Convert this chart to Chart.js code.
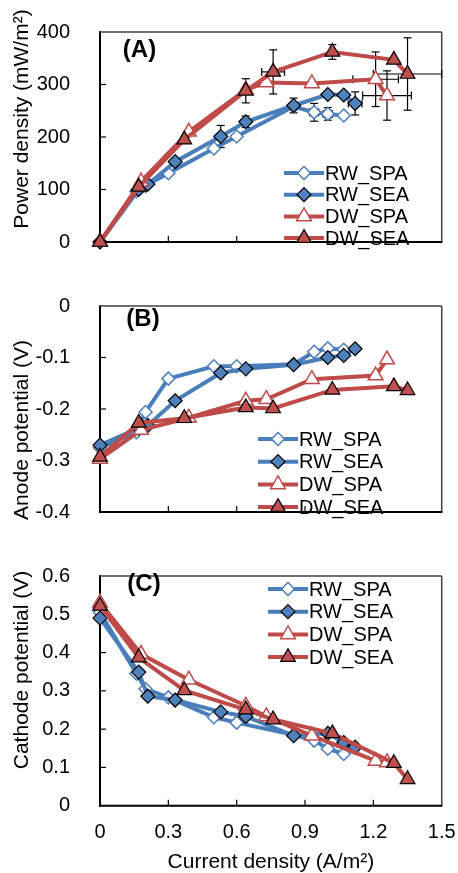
<!DOCTYPE html>
<html>
<head>
<meta charset="utf-8">
<script src="https://cdn.jsdelivr.net/npm/chart.js@4.4.1/dist/chart.umd.min.js"></script>
<style>
  html, body { margin: 0; padding: 0; background: #fff; }
  body { width: 458px; height: 873px; position: relative; overflow: hidden; }
  .panel { position: absolute; left: 0; width: 458px; }
</style>
</head>
<body>
<div class="panel" style="top:0;height:274px"><canvas id="chartA"></canvas></div>
<div class="panel" style="top:274px;height:270px"><canvas id="chartB"></canvas></div>
<div class="panel" style="top:544px;height:329px"><canvas id="chartC"></canvas></div>
<script>
// series names (legend order)
var seriesNames = ['RW_SPA', 'RW_SEA', 'DW_SPA', 'DW_SEA'];

// current density (A/m2) for each series
var xRwSpa = [0, 0.16, 0.2, 0.3, 0.5, 0.6, 0.85, 0.94, 1.0, 1.07];
var xRwSea = [0, 0.17, 0.21, 0.33, 0.53, 0.64, 0.85, 1.0, 1.07, 1.12];
var xDwSpa = [0, 0.18, 0.39, 0.64, 0.73, 0.93, 1.21, 1.26];
var xDwSea = [0, 0.17, 0.37, 0.64, 0.76, 1.02, 1.29, 1.35];

// (A) power density (mW/m2)
var powRwSpa = [0, 97, 107, 131, 178, 201, 258, 247, 244, 241];
var powRwSea = [0, 100, 110, 153, 201, 229, 260, 281, 280, 264];
var powDwSpa = [0, 115, 210, 290, 304, 302, 310, 279];
var powDwSea = [0, 105, 195, 288, 324, 362, 347, 320];

// error bars for (A): +/- y and +/- x
var errYRwSpa = [0, 0, 0, 0, 0, 0, 0, 17, 12, 0];
var errXRwSpa = [0, 0, 0, 0, 0, 0, 0, 0.02, 0.02, 0];
var errYRwSea = [0, 0, 0, 0, 21, 11, 14, 0, 0, 22];
var errXRwSea = [0, 0, 0, 0, 0, 0, 0, 0, 0, 0.03];
var errYDwSpa = [0, 0, 0, 0, 0, 0, 52, 47];
var errXDwSpa = [0, 0, 0, 0, 0, 0, 0.1, 0.107];
var errYDwSea = [0, 0, 0, 23, 42, 14, 0, 69];
var errXDwSea = [0, 0, 0, 0, 0.05, 0, 0, 0.15];

// (B) anode potential (V)
var anRwSpa = [-0.275, -0.245, -0.206, -0.141, -0.117, -0.117, -0.113, -0.089, -0.082, -0.085];
var anRwSea = [-0.270, -0.237, -0.232, -0.184, -0.130, -0.122, -0.114, -0.100, -0.096, -0.083];
var anDwSpa = [-0.297, -0.241, -0.217, -0.184, -0.181, -0.142, -0.135, -0.104];
var anDwSea = [-0.293, -0.227, -0.218, -0.197, -0.199, -0.163, -0.156, -0.164];

// (C) cathode potential (V)
var caRwSpa = [0.505, 0.345, 0.305, 0.283, 0.231, 0.217, 0.185, 0.170, 0.149, 0.135];
var caRwSea = [0.490, 0.349, 0.286, 0.276, 0.245, 0.233, 0.183, 0.189, 0.165, 0.153];
var caDwSpa = [0.530, 0.396, 0.329, 0.261, 0.233, 0.183, 0.117, 0.113];
var caDwSea = [0.522, 0.387, 0.301, 0.251, 0.225, 0.189, 0.111, 0.069];

var xs = [xRwSpa, xRwSea, xDwSpa, xDwSea];

var FONT = '"Liberation Sans", Arial, sans-serif';
Chart.defaults.font.family = FONT;
Chart.defaults.color = '#000';

var BLUE = '#4A7EBB', RED = '#BE4B48';
var styles = [
    {color: BLUE, fill: '#fff', edge: BLUE, shape: 'rectRot', r: 6.5, bw: 1.5},
    {color: BLUE, fill: '#4F81BD', edge: '#000', shape: 'rectRot', r: 7, bw: 1.2},
    {color: RED, fill: '#fff', edge: RED, shape: 'triangle', r: 8.5, bw: 1.5},
    {color: RED, fill: '#C0504D', edge: '#000', shape: 'triangle', r: 8.5, bw: 1.2}
];

function makeSets(ys) {
    return seriesNames.map(function(name, i) {
        var st = styles[i];
        return {
            label: name,
            data: xs[i].map(function(x, j) { return {x: x, y: ys[i][j]}; }),
            borderColor: st.color,
            borderWidth: 4,
            pointStyle: st.shape,
            pointRadius: st.r,
            pointBackgroundColor: st.fill,
            pointBorderColor: st.edge,
            pointBorderWidth: st.bw,
            order: 3 - i, // DW_SEA on top
            clip: false
        };
    });
}

function line(ctx, x1, y1, x2, y2) {
    ctx.beginPath();
    ctx.moveTo(x1, y1);
    ctx.lineTo(x2, y2);
    ctx.stroke();
}

// frame, inward ticks, error bars, panel label, legend, y title
var deco = {
    id: 'deco',
    beforeDatasetsDraw: function(chart, args, opts) {
        var ctx = chart.ctx, a = chart.chartArea;
        var sx = chart.scales.x, sy = chart.scales.y;
        ctx.save();
        ctx.strokeStyle = '#404040';
        ctx.lineWidth = 1.5;
        line(ctx, a.left, a.top, a.right, a.top);
        line(ctx, a.right, a.top, a.right, a.bottom);
        ctx.strokeStyle = '#000';
        ctx.lineWidth = 2;
        line(ctx, a.left, a.top - 0.75, a.left, a.bottom + 1);
        line(ctx, a.left - 1, a.bottom, a.right + 0.75, a.bottom);
        ctx.lineWidth = 1.2;
        sx.ticks.forEach(function(t) {
            var px = sx.getPixelForValue(t.value);
            if (px > a.left + 1 && px < a.right - 1) line(ctx, px, a.bottom, px, a.bottom - 6);
        });
        sy.ticks.forEach(function(t) {
            var py = sy.getPixelForValue(t.value);
            if (py > a.top + 1 && py < a.bottom - 1) line(ctx, a.left, py, a.left + 6, py);
        });
        // error bars
        if (opts.errY) {
            ctx.lineWidth = 1.2;
            chart.data.datasets.forEach(function(ds, i) {
                ds.data.forEach(function(p, j) {
                    var ey = opts.errY[i][j], ex = opts.errX[i][j];
                    var px = sx.getPixelForValue(p.x), py = sy.getPixelForValue(p.y);
                    if (ey) {
                        var t = sy.getPixelForValue(p.y + ey), b = sy.getPixelForValue(p.y - ey);
                        line(ctx, px, t, px, b);
                        line(ctx, px - 4, t, px + 4, t);
                        line(ctx, px - 4, b, px + 4, b);
                    }
                    if (ex) {
                        var l = sx.getPixelForValue(p.x - ex), r = sx.getPixelForValue(p.x + ex);
                        line(ctx, l, py, r, py);
                        line(ctx, l, py - 4, l, py + 4);
                        line(ctx, r, py - 4, r, py + 4);
                    }
                });
            });
        }
        ctx.restore();
    },
    afterDraw: function(chart, args, opts) {
        var ctx = chart.ctx;
        ctx.save();
        // y axis title
        ctx.translate(opts.titleX, opts.titleY);
        ctx.rotate(-Math.PI / 2);
        ctx.font = '21px ' + FONT;
        ctx.textAlign = 'center';
        ctx.textBaseline = 'middle';
        ctx.fillStyle = '#000';
        ctx.fillText(opts.title, 0, 0);
        ctx.restore();

        ctx.save();
        ctx.font = 'bold 24px ' + FONT;
        ctx.textAlign = 'center';
        ctx.textBaseline = 'middle';
        ctx.fillStyle = '#000';
        ctx.fillText(opts.label, opts.labelX, opts.labelY);

        // legend: line sample with marker, then name
        ctx.font = '20px ' + FONT;
        ctx.textAlign = 'left';
        chart.data.datasets.forEach(function(ds, i) {
            var y = opts.legendY + i * opts.legendGap, x = opts.legendX;
            ctx.strokeStyle = ds.borderColor;
            ctx.lineWidth = 4;
            line(ctx, x, y, x + 40, y);
            ctx.fillStyle = ds.pointBackgroundColor;
            ctx.strokeStyle = ds.pointBorderColor;
            ctx.lineWidth = ds.pointBorderWidth;
            Chart.helpers.drawPoint(ctx, {pointStyle: ds.pointStyle, radius: ds.pointRadius, rotation: 0, borderWidth: ds.pointBorderWidth}, x + 20, y);
            ctx.fillStyle = '#000';
            ctx.fillText(ds.label, x + 41, y + 1);
        });
        ctx.restore();
    }
};

function xScale(show) {
    return {
        type: 'linear', min: 0, max: 1.5,
        // invisible tick marks give the label offset (ticks.padding would widen the right margin)
        grid: {display: show, drawOnChartArea: false, drawTicks: true, tickLength: 17, color: 'rgba(0,0,0,0)'},
        border: {display: false},
        ticks: {display: show, stepSize: 0.3, padding: 0, font: {size: 20, lineHeight: 1}},
        title: {display: show, text: 'Current density (A/m²)', font: {size: 21, lineHeight: 1}, padding: 0},
        afterFit: function(s) { s.height = show ? 67.3 : 0; }
    };
}

function yScale(min, max, step) {
    return {
        type: 'linear', min: min, max: max,
        grid: {display: false}, border: {display: false},
        ticks: {stepSize: step, padding: 22, font: {size: 20, lineHeight: 1}},
        afterFit: function(s) { s.width = 100; }
    };
}

function makeChart(id, ys, yAxis, pad, show, deco_opts) {
    return new Chart(document.getElementById(id), {
        type: 'line',
        data: {datasets: makeSets(ys)},
        options: {
            responsive: true,
            maintainAspectRatio: false,
            animation: false,
            layout: {padding: pad},
            plugins: {legend: {display: false}, tooltip: {enabled: false}, deco: deco_opts},
            scales: {x: xScale(show), y: yAxis}
        },
        plugins: [deco]
    });
}

makeChart('chartA', [powRwSpa, powRwSea, powDwSpa, powDwSea], yScale(0, 400, 100),
    {top: 21.7, bottom: 11, left: 0, right: 16.3}, false,
    {title: 'Power density (mW/m²)', titleX: 22, titleY: 119,
     label: '(A)', labelX: 139.5, labelY: 50,
     legendX: 284, legendY: 173, legendGap: 21.7,
     errY: [errYRwSpa, errYRwSea, errYDwSpa, errYDwSea],
     errX: [errXRwSpa, errXRwSea, errXDwSpa, errXDwSea]});

makeChart('chartB', [anRwSpa, anRwSea, anDwSpa, anDwSea], yScale(-0.4, 0, 0.1),
    {top: 12, bottom: 12.3, left: 0, right: 16.3}, false,
    {title: 'Anode potential (V)', titleX: 22, titleY: 156,
     label: '(B)', labelX: 143, labelY: 45,
     legendX: 258, legendY: 165, legendGap: 22.7});

makeChart('chartC', [caRwSpa, caRwSea, caDwSpa, caDwSea], yScale(0, 0.6, 0.1),
    {top: 11, bottom: 0, left: 0, right: 16.3}, true,
    {title: 'Cathode potential (V)', titleX: 22, titleY: 126,
     label: '(C)', labelX: 144, labelY: 40,
     legendX: 268, legendY: 45, legendGap: 22.7});
</script>
</body>
</html>
